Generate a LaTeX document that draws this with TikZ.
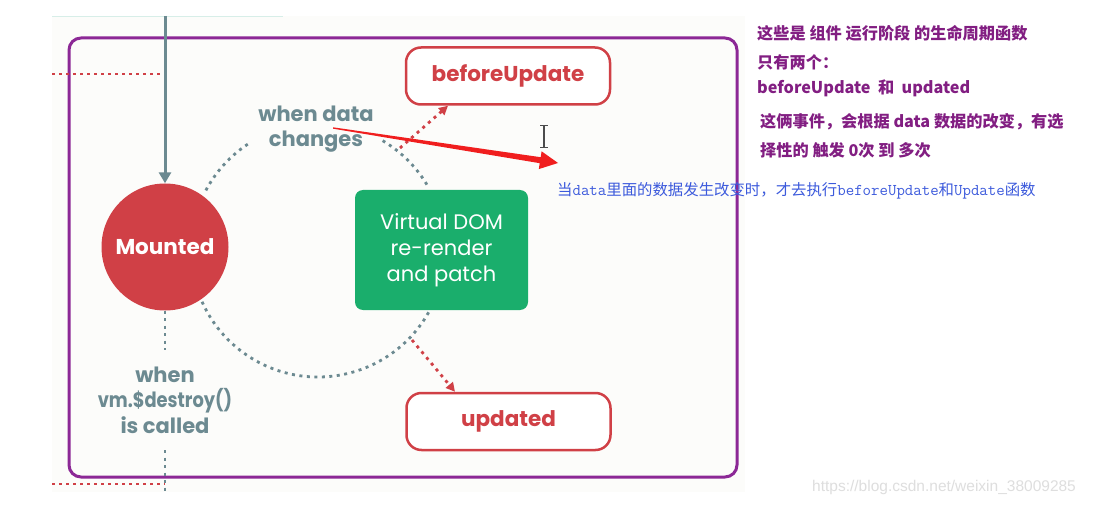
\documentclass[tikz,border=0pt]{standalone}
\usepackage{fontspec}
\setmainfont{Poppins}
\newfontfamily\cjk{Noto Sans CJK SC}
\newfontfamily\wm{Liberation Sans}
\usetikzlibrary{arrows.meta}
\definecolor{frame}{RGB}{140,40,150}
\definecolor{mred}{RGB}{208,64,70}
\definecolor{mgray}{RGB}{108,138,145}
\definecolor{mgreen}{RGB}{26,174,108}
\definecolor{bluetxt}{RGB}{60,90,220}
\definecolor{purtxt}{RGB}{130,30,130}
\definecolor{arrred}{RGB}{240,30,30}
\definecolor{bgpage}{RGB}{252,252,250}
\tikzset{
  hookbox/.style={draw=mred, line width=2.5pt, fill=white, rounded corners=15pt,
    minimum width=204pt, minimum height=57pt, text=mred, font=\bfseries\fontsize{21.5}{24}\selectfont},
  graylabel/.style={text=mgray, align=center, font=\bfseries\fontsize{21}{25.5}\selectfont},
  gdot/.style={mgray, line width=2.8pt, dash pattern=on 3pt off 4.5pt},
  rdot/.style={mred, line width=2.8pt, dash pattern=on 3pt off 4.5pt},
  ldot/.style={mred, line width=2pt, dash pattern=on 3pt off 4pt},
  note/.style={anchor=west, text=purtxt, font=\cjk\bfseries\fontsize{16.2}{18}\selectfont}
}
\newcommand{\tts}[1]{{\ttfamily\fontsize{16.4}{17}\selectfont #1}}
\begin{document}
\begin{tikzpicture}[x=1pt,y=-1pt]
\useasboundingbox (0,0) rectangle (1093,505);
\fill[white] (0,0) rectangle (1093,505);
\fill[bgpage] (52,16) rectangle (745,492);
\draw[line width=0.6pt, color={rgb,255:red,215;green,238;blue,232}] (52,16) -- (283,16);

% frame
\draw[frame, line width=3pt, rounded corners=12pt] (69,38) rectangle (737,477);

% left dotted red lines
\coordinate (t0) at (52,74);
\coordinate (t1) at (165,74);
\draw[ldot] (t0) -- (t1);
\coordinate (b0) at (52,484);
\coordinate (b1) at (165,484);
\draw[ldot] (b0) -- (b1);

% nodes
\node[circle, fill=mred, minimum size=127pt, inner sep=0pt, text=white,
  font=\bfseries\fontsize{21.5}{24}\selectfont] (M) at (165,247) {Mounted};
\node[fill=mgreen, rounded corners=8pt, minimum width=173pt, minimum height=120pt,
  text=white, align=center, font=\fontsize{21}{26}\selectfont] (V) at (441.5,250)
  {Virtual DOM\\re-render\\and patch};
\node[hookbox] (BU) at (508,76) {beforeUpdate};
\node[hookbox] (UP) at (508.5,421.5) {updated};
\node[graylabel] (WD) at (316,129) {when data\\changes};
\node[graylabel] (WV) at (165,400) {when\\\scalebox{0.85}[1]{vm.\$destroy()}\\is called};

% top gray arrow
\coordinate (top) at (165,16);
\draw[mgray, line width=3pt, -{Triangle[length=11pt,width=12pt]}] (top) -- (M.north);

% gray dotted vertical
\coordinate (d1) at (165,350);
\draw[gdot] (M.south) -- (d1);
\coordinate (d2) at (165,450);
\coordinate (d3) at (165,492);
\draw[gdot] (d2) -- (d3);

% dotted cycle arcs
\coordinate (C) at (318,250);
\draw[gdot] ([shift={(-152:127)}]C) arc[start angle=-152, end angle=-122, radius=127];
\draw[gdot] ([shift={(-59.4:127)}]C) arc[start angle=-59.4, end angle=-29.8, radius=127];
\draw[gdot] ([shift={(29.4:127)}]C) arc[start angle=29.4, end angle=156.2, radius=127];

% red dotted hook arrows
\coordinate (s1) at (400,148);
\draw[rdot, -{Triangle[length=9pt,width=9pt]}] (s1) -- (BU.south west -| 448,0);
\coordinate (s2) at (412,340);
\draw[rdot, -{Triangle[length=9pt,width=9pt]}] (s2) -- (UP.north west -| 455,0);

% annotation arrow
\fill[arrred] (333,127.3) -- (540.7,157.2) -- (541.6,151.3) -- (558,163)
  -- (538.8,169.1) -- (539.7,163.2) -- (333,128.7) -- cycle;

% cursor
\draw[black!70, line width=1.2pt] (544,126) -- (544,147);
\draw[black!70, line width=1pt] (540,125.5) -- (548,125.5);
\draw[black!70, line width=1pt] (540,147.5) -- (548,147.5);

% blue note
\node[anchor=west, inner sep=0pt, text=bluetxt, font=\cjk\fontsize{15.4}{17}\selectfont] (blue) at (557,191)
  {当\tts{data}里面的数据发生改变时，才去执行\tts{beforeUpdate}和\tts{Update}函数};

% purple notes
\node[note, inner sep=0pt] (n1) at (757,33) {这些是 组件 运行阶段 的生命周期函数};
\node[note, inner sep=0pt] (n2) at (757,62) {只有两个：};
\node[note, inner sep=0pt] (n3) at (757,88) {beforeUpdate~ 和 ~updated};
\node[note, inner sep=0pt] (n4) at (760,122) {这俩事件，会根据 data 数据的改变，有选};
\node[note, inner sep=0pt] (n5) at (760,150) {择性的 触发 0次 到 多次};

% watermark
\node[anchor=west, inner sep=0pt, text={rgb,255:red,222;green,222;blue,222}, font=\wm\fontsize{15.5}{17}\selectfont] (wmk) at (812,487)
  {https://blog.csdn.net/weixin\_38009285};
\end{tikzpicture}
\end{document}
